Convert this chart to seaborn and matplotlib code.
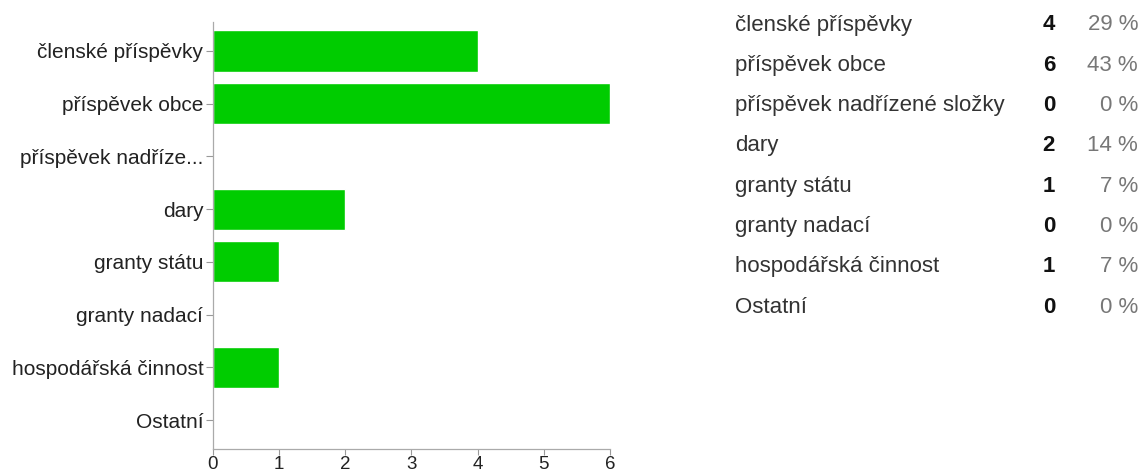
import pandas as pd
import seaborn as sns
import matplotlib.pyplot as plt

categories = ["členské příspěvky", "příspěvek obce", "příspěvek nadřízené složky", "dary",
              "granty státu", "granty nadací", "hospodářská činnost", "Ostatní"]
counts = [4, 6, 0, 2, 1, 0, 1, 0]
percents = ["29 %", "43 %", "0 %", "14 %", "7 %", "0 %", "7 %", "0 %"]
x_ticks = [0, 1, 2, 3, 4, 5, 6]


def short(name, n=17):
    return name if len(name) <= n + 3 else name[:n] + "..."


sns.set_style("white")
plt.rcParams['font.family'] = ['Liberation Sans', 'DejaVu Sans']

df = pd.DataFrame({"kategorie": categories, "pocet": counts})

fig = plt.figure(figsize=(11.42, 4.74), dpi=100)
ax = fig.add_axes([0.1865, 0.0527, 0.3476, 0.9009])
sns.barplot(data=df, x="pocet", y="kategorie", color="#00cc00", saturation=1,
            width=0.78, orient="h", ax=ax)

ax.set_xlim(0, 6)
ax.set_ylim(7.55, -0.55)
ax.set_xticks(x_ticks)
ax.set_yticks(range(len(categories)))
ax.set_yticklabels([short(c) for c in categories])
ax.set_xlabel("")
ax.set_ylabel("")
ax.tick_params(axis="y", length=5, width=0.8, color="#999999", labelsize=15,
               labelcolor="#222222", pad=2, left=True)
ax.tick_params(axis="x", length=4, width=0.8, color="#999999", labelsize=13.5,
               labelcolor="#222222", pad=1, bottom=True)
for side in ["top", "right"]:
    ax.spines[side].set_visible(False)
for side in ["left", "bottom"]:
    ax.spines[side].set_color("#aaaaaa")
    ax.spines[side].set_linewidth(0.9)

# tabulka vpravo
y0 = 474 - 25
step = 40.3
for i, (c, n, p) in enumerate(zip(categories, counts, percents)):
    y = (y0 - i * step) / 474
    fig.text(735 / 1142, y, c, fontsize=16, color="#333333", va="center", ha="left")
    fig.text(1055 / 1142, y, str(n), fontsize=16, color="#111111", fontweight="bold",
             va="center", ha="right")
    fig.text(1138 / 1142, y, p, fontsize=16, color="#777777", va="center", ha="right")

fig.savefig("out.png", dpi=100)
